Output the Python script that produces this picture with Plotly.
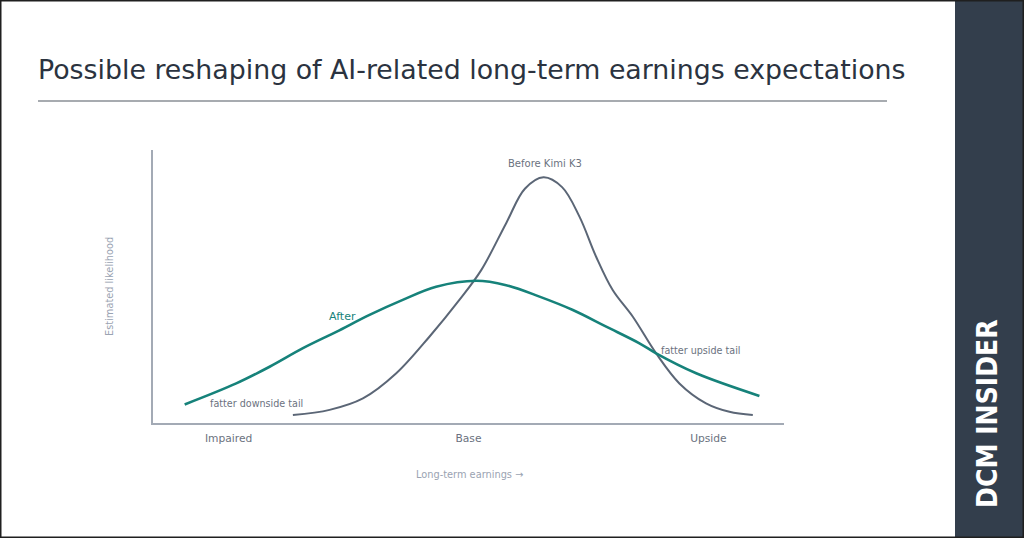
import plotly.graph_objects as go

W, H = 1024, 538

# ---- data ----
category_vals = [-1, 0, 1]
category_labels = ["Impaired", "Base", "Upside"]

before_x = [-0.732, -0.579, -0.440, -0.301, -0.163, -0.038, 0.053, 0.157, 0.235,
            0.3125, 0.390, 0.4625, 0.532, 0.601, 0.685, 0.782, 0.879, 0.990, 1.0875, 1.185]
before_y = [0.029, 0.048, 0.090, 0.182, 0.316, 0.451, 0.560, 0.732, 0.858,
            0.900, 0.864, 0.756, 0.609, 0.487, 0.389, 0.255, 0.145, 0.072, 0.041, 0.029]

after_x = [-1.183, -0.968, -0.829, -0.690, -0.551, -0.4125, -0.274, -0.135, 0.032,
           0.157, 0.296, 0.435, 0.574, 0.7125, 0.782, 0.949, 1.2125]
after_y = [0.068, 0.145, 0.206, 0.274, 0.334, 0.396, 0.451, 0.499, 0.521,
           0.505, 0.463, 0.414, 0.353, 0.292, 0.255, 0.182, 0.099]

TEAL = "#16827a"
SLATE = "#5b6676"
LABEL = "#6b7280"
LIGHT = "#9aa3b2"
FONT = "DejaVu Sans"

fig = go.Figure()
fig.add_trace(go.Scatter(x=before_x, y=before_y, mode="lines",
                         line=dict(color=SLATE, width=2, shape="spline", smoothing=1),
                         hoverinfo="skip", showlegend=False))
fig.add_trace(go.Scatter(x=after_x, y=after_y, mode="lines",
                         line=dict(color=TEAL, width=2.6, shape="spline", smoothing=1),
                         hoverinfo="skip", showlegend=False))

x0p, x1p = 153 / W, 784 / W
y0p, y1p = (H - 423) / H, (H - 150) / H

fig.update_layout(
    width=W, height=H,
    margin=dict(l=0, r=0, t=0, b=0),
    paper_bgcolor="white", plot_bgcolor="white",
    font=dict(family=FONT, color=LABEL),
    xaxis=dict(domain=[x0p, x1p], range=[-1.315, 1.315], showgrid=False, zeroline=False,
               showline=True, linecolor="#a3aab5", linewidth=1.5,
               tickmode="array", tickvals=category_vals, ticktext=category_labels,
               ticks="", ticklabelstandoff=4, tickfont=dict(size=10.7, color=LABEL, family=FONT)),
    yaxis=dict(domain=[y0p, y1p], range=[0, 1], showgrid=False, zeroline=False,
               showline=True, linecolor="#a3aab5", linewidth=1.5,
               showticklabels=False, ticks=""),
)

shapes = [
    # title underline
    dict(type="line", xref="paper", yref="paper", x0=38 / W, x1=887 / W,
         y0=(H - 101) / H, y1=(H - 101) / H, line=dict(color="#8a8f96", width=1.5)),
    # right sidebar
    dict(type="rect", xref="paper", yref="paper", x0=955 / W, x1=1, y0=0, y1=1,
         fillcolor="#333e4c", line=dict(width=0), layer="below"),
    # page border
    dict(type="rect", xref="paper", yref="paper", x0=0.5 / W, x1=1 - 0.5 / W,
         y0=0.5 / H, y1=1 - 0.5 / H, line=dict(color="#1f1f1f", width=2)),
]
fig.update_layout(shapes=shapes)

ann = [
    dict(text="Possible reshaping of AI-related long-term earnings expectations",
         xref="paper", yref="paper", x=36 / W, y=(H - 70) / H, xanchor="left", yanchor="middle",
         showarrow=False, font=dict(size=26.8, color="#2b3340", family=FONT)),
    dict(text="Before Kimi K3", xref="x", yref="y", x=0.317, y=(423 - 163) / 273,
         xanchor="center", yanchor="middle", showarrow=False, font=dict(size=10, color=LABEL)),
    dict(text="After", xref="x", yref="y", x=(343 - 469) / 240, y=(423 - 316) / 273,
         xanchor="center", yanchor="middle", showarrow=False, font=dict(size=11, color=TEAL)),
    dict(text="fatter downside tail", xref="x", yref="y", x=(208 - 469) / 240, y=(423 - 403) / 273,
         xanchor="left", yanchor="middle", showarrow=False, font=dict(size=9.6, color=LABEL)),
    dict(text="fatter upside tail", xref="x", yref="y", x=(660 - 469) / 240, y=(423 - 350) / 273,
         xanchor="left", yanchor="middle", showarrow=False, font=dict(size=9.6, color=LABEL)),
    dict(text="Long-term earnings \u2192", xref="paper", yref="paper", x=469 / W, y=(H - 474) / H,
         xanchor="center", yanchor="middle", showarrow=False, font=dict(size=9.8, color=LIGHT)),
    dict(text="Estimated likelihood", xref="paper", yref="paper", x=109 / W, y=(H - 287) / H,
         xanchor="center", yanchor="middle", textangle=-90, showarrow=False,
         font=dict(size=9.8, color=LIGHT)),
    dict(text="<b>DCM INSIDER</b>", xref="paper", yref="paper", x=987 / W, y=(H - 414) / H,
         xanchor="center", yanchor="middle", textangle=-90, showarrow=False,
         font=dict(size=28, color="white", family="DejaVu Sans Condensed, DejaVu Sans")),
]
fig.update_layout(annotations=ann)

fig.write_html("out.html")
